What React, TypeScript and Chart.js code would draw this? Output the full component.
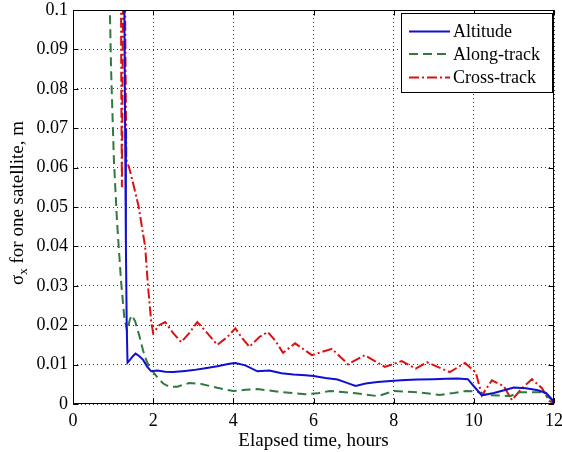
import React, { useEffect, useRef } from 'react';
import { Chart, registerables } from 'chart.js';

Chart.register(...registerables);

// ---- Data ----
const seriesLabels = ['Altitude', 'Along-track', 'Cross-track'];

const altitudeT = [1.27, 1.30, 1.32, 1.34, 1.36, 1.42, 1.50, 1.56, 1.65, 1.75, 1.85, 1.95, 2.1, 2.3, 2.5, 2.8, 3.0, 3.3, 3.6, 3.9, 4.05, 4.3, 4.6, 4.9, 5.2, 5.5, 5.8, 6.0, 6.3, 6.6, 6.8, 7.05, 7.3, 7.6, 8.0, 8.3, 8.6, 9.0, 9.3, 9.6, 9.85, 10.0, 10.2, 10.5, 10.8, 11.0, 11.3, 11.6, 11.8, 11.95, 12.0];
const altitudeV = [0.12, 0.07, 0.04, 0.02, 0.0105, 0.0112, 0.0122, 0.0128, 0.0122, 0.0112, 0.0095, 0.0083, 0.0085, 0.0082, 0.0081, 0.0084, 0.0086, 0.0091, 0.0096, 0.0102, 0.0104, 0.0098, 0.0083, 0.0085, 0.0078, 0.0075, 0.0073, 0.0071, 0.0066, 0.0062, 0.0055, 0.0046, 0.0052, 0.0056, 0.0059, 0.0061, 0.0062, 0.0063, 0.0064, 0.0065, 0.0063, 0.0045, 0.0022, 0.0028, 0.0036, 0.0042, 0.004, 0.0035, 0.0028, 0.0012, 0.0002];

const alongT = [0.88, 0.95, 1.02, 1.1, 1.2, 1.28, 1.35, 1.42, 1.47, 1.55, 1.65, 1.75, 1.85, 1.95, 2.1, 2.25, 2.4, 2.6, 2.9, 3.2, 3.6, 4.0, 4.3, 4.6, 5.2, 5.8, 6.1, 6.4, 7.0, 7.6, 8.0, 8.6, 9.15, 9.5, 9.8, 10.05, 10.3, 10.9, 11.15, 11.65, 11.9, 12.0];
const alongV = [0.12, 0.085, 0.062, 0.046, 0.031, 0.022, 0.0185, 0.0215, 0.0225, 0.021, 0.0175, 0.0135, 0.0105, 0.0088, 0.0068, 0.0052, 0.0044, 0.0044, 0.0053, 0.0051, 0.0041, 0.0033, 0.0036, 0.0038, 0.003, 0.0025, 0.0027, 0.0033, 0.0028, 0.002, 0.0033, 0.003, 0.0023, 0.0028, 0.0033, 0.0032, 0.0023, 0.002, 0.003, 0.003, 0.0015, 0.0003];

const crossT = [1.19, 1.205, 1.22, 1.24, 1.27, 1.30, 1.33, 1.40, 1.50, 1.64, 1.75, 1.80, 1.87, 1.95, 2.0, 2.15, 2.3, 2.5, 2.7, 2.9, 3.1, 3.35, 3.6, 3.85, 4.05, 4.2, 4.4, 4.65, 4.86, 5.05, 5.24, 5.54, 5.96, 6.46, 6.86, 7.28, 7.78, 8.2, 8.55, 8.83, 9.4, 9.78, 10.05, 10.2, 10.45, 10.75, 10.95, 11.2, 11.45, 11.7, 11.88, 12.0];
const crossV = [0.13, 0.08, 0.055, 0.09, 0.13, 0.1, 0.062, 0.06, 0.056, 0.05, 0.043, 0.04, 0.03, 0.021, 0.018, 0.02, 0.0208, 0.018, 0.0157, 0.018, 0.0208, 0.018, 0.015, 0.017, 0.0192, 0.017, 0.0145, 0.017, 0.0183, 0.016, 0.013, 0.0154, 0.0124, 0.014, 0.0101, 0.0124, 0.0094, 0.0109, 0.009, 0.0106, 0.0081, 0.0104, 0.008, 0.0022, 0.006, 0.0045, 0.001, 0.004, 0.0063, 0.004, 0.0008, 0.0003];

const xTickValues = [0, 2, 4, 6, 8, 10, 12];
const xTickLabels = ['0', '2', '4', '6', '8', '10', '12'];
const yTickValues = [0, 0.01, 0.02, 0.03, 0.04, 0.05, 0.06, 0.07, 0.08, 0.09, 0.1];
const yTickLabels = ['0', '0.01', '0.02', '0.03', '0.04', '0.05', '0.06', '0.07', '0.08', '0.09', '0.1'];

const xTitle = 'Elapsed time, hours';
const yTitleSymbol = 'σ';
const yTitleSub = 'x';
const yTitleRest = ' for one satellite, m';

const FONT = '"Liberation Serif", "Times New Roman", serif';

const toPoints = (t: number[], v: number[]) => t.map((x, i) => ({ x, y: v[i] }));

const framePlugin = {
  id: 'frame',
  afterDatasetsDraw(chart: any) {
    const { ctx, chartArea } = chart;
    const xs = chart.scales.x;
    const ys = chart.scales.y;
    const l = Math.round(chartArea.left) + 0.5;
    const r = Math.round(chartArea.right) - 0.5;
    const t = Math.round(chartArea.top) + 0.5;
    const b = Math.round(chartArea.bottom) - 0.5;
    ctx.save();
    ctx.setLineDash([]);
    ctx.strokeStyle = '#000';
    ctx.lineWidth = 1;
    ctx.strokeRect(l, t, r - l, b - t);
    ctx.beginPath();
    const tl = 5;
    xTickValues.forEach((v) => {
      const px = Math.round(xs.getPixelForValue(v)) + 0.5;
      ctx.moveTo(px, b); ctx.lineTo(px, b - tl);
      ctx.moveTo(px, t); ctx.lineTo(px, t + tl);
    });
    yTickValues.forEach((v) => {
      const py = Math.round(ys.getPixelForValue(v)) + 0.5;
      ctx.moveTo(l, py); ctx.lineTo(l + tl, py);
      ctx.moveTo(r, py); ctx.lineTo(r - tl, py);
    });
    ctx.stroke();
    ctx.restore();
  },
  afterDraw(chart: any) {
    const { ctx } = chart;
    ctx.save();
    // y-axis title with subscript
    ctx.translate(23, 203);
    ctx.rotate(-Math.PI / 2);
    ctx.fillStyle = '#000';
    ctx.textBaseline = 'alphabetic';
    ctx.font = `19px ${FONT}`;
    const w1 = ctx.measureText(yTitleSymbol).width;
    ctx.font = `13px ${FONT}`;
    const w2 = ctx.measureText(yTitleSub).width;
    ctx.font = `19px ${FONT}`;
    const w3 = ctx.measureText(yTitleRest).width;
    let x0 = -(w1 + w2 + w3) / 2;
    ctx.textAlign = 'left';
    ctx.fillText(yTitleSymbol, x0, 0);
    x0 += w1;
    ctx.font = `13px ${FONT}`;
    ctx.fillText(yTitleSub, x0, 4);
    x0 += w2;
    ctx.font = `19px ${FONT}`;
    ctx.fillText(yTitleRest, x0, 0);
    ctx.restore();

    // legend box
    const bx = 401, by = 13, bw = 151, bh = 79;
    ctx.save();
    ctx.fillStyle = '#fff';
    ctx.fillRect(bx, by, bw, bh);
    ctx.strokeStyle = '#000';
    ctx.lineWidth = 1;
    ctx.setLineDash([]);
    ctx.strokeRect(bx + 0.5, by + 0.5, bw, bh);
    const rows = [31.5, 54, 77.5];
    chart.data.datasets.forEach((ds: any, i: number) => {
      const y = rows[i];
      ctx.strokeStyle = ds.borderColor;
      ctx.lineWidth = ds.borderWidth;
      ctx.setLineDash(ds.borderDash || []);
      ctx.beginPath();
      ctx.moveTo(409, y);
      ctx.lineTo(450, y);
      ctx.stroke();
      ctx.setLineDash([]);
      ctx.fillStyle = '#000';
      ctx.font = `18px ${FONT}`;
      ctx.textAlign = 'left';
      ctx.textBaseline = 'middle';
      ctx.fillText(ds.label, 453, y + 1);
    });
    ctx.restore();
  },
};

export default function App() {
  const ref = useRef<HTMLCanvasElement | null>(null);
  useEffect(() => {
    document.body.style.margin = '0';
    const canvas = ref.current;
    if (!canvas) return;
    const chart = new Chart(canvas, {
      type: 'line',
      data: {
        datasets: [
          {
            label: seriesLabels[0],
            data: toPoints(altitudeT, altitudeV),
            borderColor: '#1010d0',
            borderWidth: 2,
            pointRadius: 0,
            tension: 0,
            fill: false,
          },
          {
            label: seriesLabels[1],
            data: toPoints(alongT, alongV),
            borderColor: '#2f7a3c',
            borderWidth: 2,
            borderDash: [9, 5],
            pointRadius: 0,
            tension: 0,
            fill: false,
          },
          {
            label: seriesLabels[2],
            data: toPoints(crossT, crossV),
            borderColor: '#dd1010',
            borderWidth: 2,
            borderDash: [10, 3, 2, 3],
            pointRadius: 0,
            tension: 0,
            fill: false,
          },
        ],
      },
      options: {
        animation: false,
        responsive: true,
        maintainAspectRatio: false,
        layout: { padding: { left: 0, right: 8, top: 10, bottom: 0 } },
        plugins: { legend: { display: false }, tooltip: { enabled: false } },
        scales: {
          x: {
            type: 'linear',
            min: 0,
            max: 12,
            afterBuildTicks: (s: any) => {
              s.ticks = xTickValues.map((value) => ({ value }));
            },
            afterFit: (s: any) => {
              s.height = 48;
              s.paddingLeft = 0;
              s.paddingRight = 0;
            },
            ticks: {
              autoSkip: false,
              maxRotation: 0,
              padding: 6,
              color: '#000',
              font: { family: FONT, size: 18 },
              callback: (_v: any, i: number) => xTickLabels[i],
            },
            grid: { color: '#333', lineWidth: 1, drawTicks: false },
            border: { display: false, dash: [1, 3] },
            title: {
              display: true,
              text: xTitle,
              color: '#000',
              font: { family: FONT, size: 19 },
              padding: { top: 0, bottom: 0 },
            },
          },
          y: {
            type: 'linear',
            min: 0,
            max: 0.1,
            afterBuildTicks: (s: any) => {
              s.ticks = yTickValues.map((value) => ({ value }));
            },
            afterFit: (s: any) => {
              s.width = 73;
              s.paddingTop = 0;
              s.paddingBottom = 0;
            },
            ticks: {
              autoSkip: false,
              padding: 5,
              color: '#000',
              font: { family: FONT, size: 18 },
              callback: (_v: any, i: number) => yTickLabels[i],
            },
            grid: { color: '#333', lineWidth: 1, drawTicks: false },
            border: { display: false, dash: [1, 3] },
          },
        },
      },
      plugins: [framePlugin],
    });
    return () => chart.destroy();
  }, []);
  return (
    <div style={{ position: 'absolute', left: 0, top: 0, width: 562, height: 452, background: '#fff' }}>
      <canvas ref={ref} />
    </div>
  );
}
